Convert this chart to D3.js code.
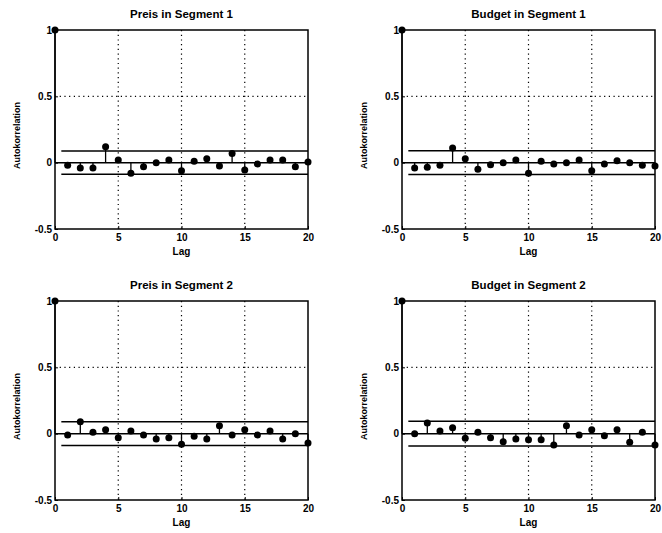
<!DOCTYPE html>
<html>
<head>
<meta charset="utf-8">
<script src="https://cdn.jsdelivr.net/npm/d3@7"></script>
<style>
  body { margin: 0; background: #fff; }
  svg { display: block; font-family: "Liberation Sans", Arial, sans-serif; }
  .tick text { font-weight: bold; font-size: 10px; }
</style>
</head>
<body>
<svg id="chart" width="662" height="533"></svg>
<script>
// autocorrelation values, lags 0..20
const lags = d3.range(0, 21)
const preisSeg1  = [1, -0.02, -0.04, -0.04, 0.12, 0.02, -0.08, -0.03, 0.00, 0.02, -0.06, 0.01, 0.03, -0.025, 0.07, -0.055, -0.01, 0.02, 0.02, -0.03, 0.005]
const budgetSeg1 = [1, -0.04, -0.035, -0.02, 0.11, 0.03, -0.05, -0.015, 0.00, 0.02, -0.08, 0.01, -0.01, 0.00, 0.02, -0.06, -0.01, 0.015, 0.00, -0.02, -0.025]
const preisSeg2  = [1, -0.01, 0.09, 0.01, 0.03, -0.03, 0.02, -0.01, -0.04, -0.03, -0.08, -0.02, -0.04, 0.06, -0.01, 0.03, -0.01, 0.02, -0.04, 0.00, -0.07]
const budgetSeg2 = [1, 0.00, 0.08, 0.02, 0.045, -0.035, 0.01, -0.03, -0.06, -0.04, -0.045, -0.045, -0.085, 0.06, -0.01, 0.03, -0.015, 0.03, -0.065, 0.01, -0.085]
const titles = ['Preis in Segment 1', 'Budget in Segment 1', 'Preis in Segment 2', 'Budget in Segment 2']
const series = [preisSeg1, budgetSeg1, preisSeg2, budgetSeg2]
const bounds = [0.088, 0.09, 0.09, 0.093]   // confidence band (+/-)
const xTicks = [0, 5, 10, 15, 20]
const yTicks = [-0.5, 0, 0.5, 1]
const yTickLabels = ['-0.5', '0', '0.5', '1']

const svg = d3.select('#chart')
const panelW = 253, panelH = 199
const origins = [[55, 30], [402, 30], [55, 301], [402, 301]]

series.forEach((vals, i) => {
  const [ox, oy] = origins[i]
  const g = svg.append('g').attr('transform', `translate(${ox},${oy})`)
  const x = d3.scaleLinear().domain([0, 20]).range([0, panelW])
  const y = d3.scaleLinear().domain([-0.5, 1]).range([panelH, 0])

  // dotted grid
  g.append('g').selectAll('line').data([5, 10, 15]).join('line')
    .attr('x1', d => x(d)).attr('x2', d => x(d)).attr('y1', 0).attr('y2', panelH)
    .attr('stroke', '#000').attr('stroke-width', 1.2).attr('stroke-dasharray', '1.2,3.5')
  g.append('g').selectAll('line').data([0.5]).join('line')
    .attr('x1', 0).attr('x2', panelW).attr('y1', d => y(d)).attr('y2', d => y(d))
    .attr('stroke', '#000').attr('stroke-width', 1.2).attr('stroke-dasharray', '1.2,3.5')

  // axes
  const xa = g.append('g').attr('transform', `translate(0,${panelH})`)
    .call(d3.axisBottom(x).tickValues(xTicks).tickSize(-3).tickPadding(5))
  const ya = g.append('g')
    .call(d3.axisLeft(y).tickValues(yTicks).tickFormat((d, k) => yTickLabels[k]).tickSize(-3).tickPadding(3))
  ;[xa, ya].forEach(a => { a.select('.domain').remove(); a.selectAll('line').attr('stroke', '#000') })

  g.append('rect').attr('width', panelW).attr('height', panelH)
    .attr('fill', 'none').attr('stroke', '#000').attr('stroke-width', 1.5)

  // zero line and confidence band
  g.append('line').attr('x1', x(0)).attr('x2', x(20)).attr('y1', y(0)).attr('y2', y(0))
    .attr('stroke', '#000').attr('stroke-width', 1.5)
  g.append('g').selectAll('line').data([bounds[i], -bounds[i]]).join('line')
    .attr('x1', x(0.5)).attr('x2', x(20)).attr('y1', d => y(d)).attr('y2', d => y(d))
    .attr('stroke', '#000').attr('stroke-width', 1.5)

  // stems
  g.append('g').selectAll('line').data(lags).join('line')
    .attr('x1', d => x(d)).attr('x2', d => x(d))
    .attr('y1', y(0)).attr('y2', d => y(vals[d]))
    .attr('stroke', '#000').attr('stroke-width', 1.3)
  g.append('g').selectAll('circle').data(lags).join('circle')
    .attr('cx', d => x(d)).attr('cy', d => y(vals[d])).attr('r', 3.5).attr('fill', '#000')

  // labels
  g.append('text').attr('x', panelW / 2).attr('y', -12).attr('text-anchor', 'middle')
    .attr('font-weight', 'bold').attr('font-size', 11.5).text(titles[i])
  g.append('text').attr('x', panelW / 2).attr('y', panelH + 26).attr('text-anchor', 'middle')
    .attr('font-weight', 'bold').attr('font-size', 10).text('Lag')
  g.append('text').attr('transform', `translate(-35,${panelH / 2 + 6}) rotate(-90)`)
    .attr('text-anchor', 'middle').attr('font-weight', 'bold').attr('font-size', 9).text('Autokorrelation')
})
</script>
</body>
</html>
